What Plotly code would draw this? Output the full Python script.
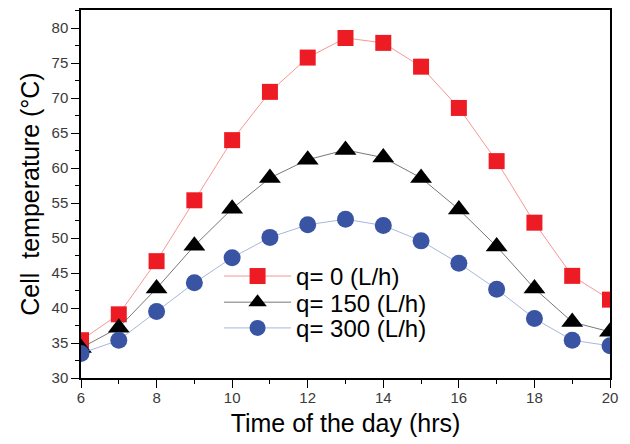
import plotly.graph_objects as go

hours = [6, 7, 8, 9, 10, 11, 12, 13, 14, 15, 16, 17, 18, 19, 20]
q0 = [35.4, 39.1, 46.7, 55.4, 64.0, 70.9, 75.8, 78.6, 77.9, 74.5, 68.6, 61.0, 52.2, 44.6, 41.2]
q150 = [34.3, 37.2, 42.8, 48.9, 54.2, 58.6, 61.2, 62.6, 61.5, 58.6, 54.1, 48.8, 42.8, 38.0, 36.6]
q300 = [33.5, 35.4, 39.5, 43.6, 47.2, 50.1, 51.9, 52.7, 51.8, 49.6, 46.4, 42.7, 38.5, 35.4, 34.6]

names = ["q= 0 (L/h)", "q= 150 (L/h)", "q= 300 (L/h)"]
marker_colors = ["#ed1c24", "#000000", "#3a54a4"]
line_colors = ["#f47c7c", "#555555", "#8fa3d6"]
symbols = ["square", "triangle-up", "circle"]
sizes = [16, 19, 17]
legend_ids = ["legend", "legend2", "legend3"]
legend_y = [0.276, 0.205, 0.135]

font = "Liberation Sans, Arial, sans-serif"

fig = go.Figure()
for ys, nm, mc, lc, sym, sz, lg in zip([q0, q150, q300], names, marker_colors, line_colors, symbols, sizes, legend_ids):
    fig.add_trace(go.Scatter(
        x=hours, y=ys, name=nm, mode="lines+markers", legend=lg,
        line=dict(color=lc, width=0.8),
        marker=dict(symbol=sym, size=sz, color=mc, line=dict(width=0)),
    ))

legend_common = dict(
    x=0.261, xanchor="left", yanchor="middle",
    font=dict(size=24, family=font, color="#000"),
    bgcolor="rgba(0,0,0,0)", itemwidth=67,
)

fig.update_layout(
    width=630, height=444,
    margin=dict(l=81, r=20, t=10, b=66, autoexpand=False),
    paper_bgcolor="white", plot_bgcolor="white",
    font=dict(family=font, color="#000"),
    showlegend=True,
    legend=dict(y=legend_y[0], **legend_common),
    legend2=dict(y=legend_y[1], **legend_common),
    legend3=dict(y=legend_y[2], **legend_common),
    xaxis=dict(
        range=[6, 20], tickvals=[6, 8, 10, 12, 14, 16, 18, 20],
        ticks="outside", ticklen=8, tickwidth=1, tickcolor="#000",
        minor=dict(dtick=1, ticks="outside", ticklen=4, tickcolor="#000"),
        showline=True, linecolor="#000", linewidth=1.5, mirror=True,
        showgrid=False, zeroline=False, automargin=False,
        ticklabelstandoff=-3,
        tickfont=dict(size=15, color="#3a3a3a"),
        title=dict(text="Time of the day (hrs)", font=dict(size=25), standoff=10),
    ),
    yaxis=dict(
        range=[30, 82.6], tickvals=[30, 35, 40, 45, 50, 55, 60, 65, 70, 75, 80],
        ticks="outside", ticklen=8, tickwidth=1, tickcolor="#000",
        minor=dict(dtick=2.5, ticks="outside", ticklen=4, tickcolor="#000"),
        showline=True, linecolor="#000", linewidth=1.5, mirror=True,
        showgrid=False, zeroline=False, automargin=False,
        tickfont=dict(size=15, color="#3a3a3a"),
        title=dict(text="Cell  temperature (°C)", font=dict(size=25), standoff=5),
    ),
)

fig.write_html("out.html", config={"displayModeBar": False},
               post_script="document.body.style.margin='0';")
